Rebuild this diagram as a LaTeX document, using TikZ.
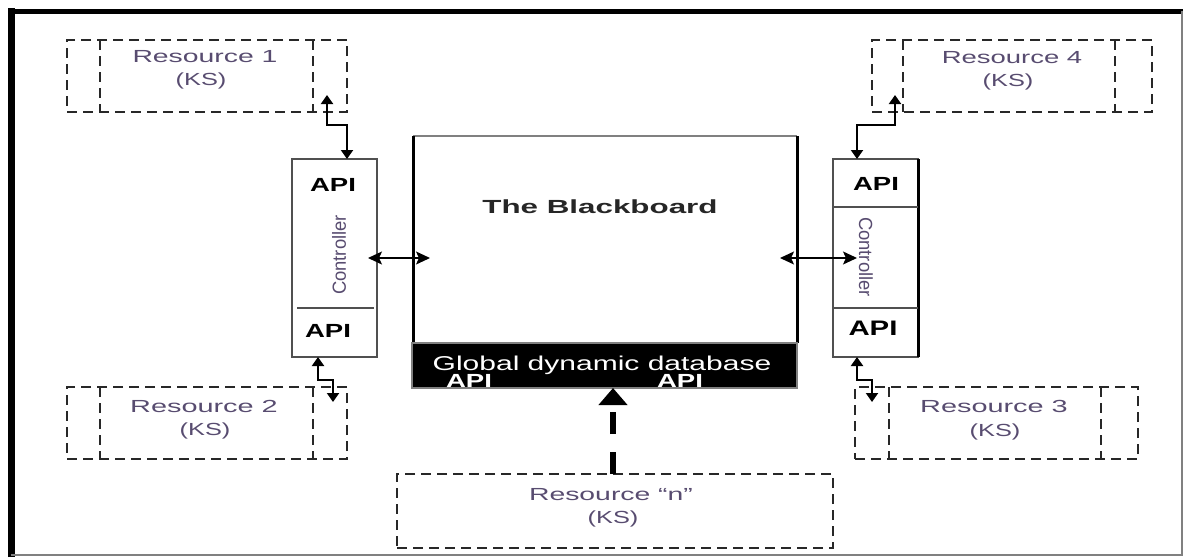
\documentclass[tikz,border=0pt]{standalone}
\usepackage{fontspec}
\setmainfont{Liberation Sans}
\usepackage{graphicx}
\usetikzlibrary{arrows.meta,calc}
\newcommand{\sx}[2]{\scalebox{#1}[1]{#2}}
\definecolor{restxt}{RGB}{88,76,112}
\definecolor{dashgray}{RGB}{40,40,40}
\definecolor{linegray}{RGB}{80,80,80}
\begin{document}
\begin{tikzpicture}[x=1pt,y=-1pt,
  resbox/.style={draw=dashgray, line width=2.3pt, dash pattern=on 10pt off 6pt, minimum width=280pt, minimum height=72pt, inner sep=0pt, outer sep=0pt},
  resline/.style={draw=dashgray, line width=2.3pt, dash pattern=on 10pt off 6pt},
  restext/.style={text=restxt, font=\fontsize{17.5}{20}\selectfont, inner sep=0pt, anchor=base},
  apitext/.style={font=\bfseries\fontsize{19}{22}\selectfont, inner sep=0pt, anchor=base},
  ctrltext/.style={text=restxt, font=\fontsize{19}{22}\selectfont, inner sep=0pt},
  ctrlbox/.style={draw=linegray, line width=1.5pt, minimum width=85pt, minimum height=198pt, inner sep=0pt, outer sep=0pt, fill=white},
  divider/.style={draw=linegray, line width=1.3pt},
  stepar/.style={{Triangle[length=9pt,width=12pt]}-{Triangle[length=9pt,width=12pt]}, line width=2pt},
  midar/.style={{Stealth[length=14pt,width=13pt,inset=3pt]}-{Stealth[length=14pt,width=13pt,inset=3pt]}, line width=1.4pt},
  bigar/.style={-{Triangle[length=17pt,width=28pt]}, line width=6pt, dash pattern=on 22pt off 18pt}
]
\useasboundingbox (0,0) rectangle (1185,557);
% frame
\draw[line width=7pt] (11,557) -- (11,8);
\draw[line width=5pt] (8,11) -- (1183,11);
\draw[gray, line width=1.2pt] (1182,11) -- (1182,555) -- (11,555);

% resource boxes
\node[resbox] (r1) at (207,76) {};
\draw[resline] ($(r1.north west)+(33,0)$) -- ($(r1.south west)+(33,0)$);
\draw[resline] ($(r1.north east)+(-34,0)$) -- ($(r1.south east)+(-34,0)$);
\node[restext] (r1t) at (205,62) {\sx{1.62}{Resource 1}};
\node[restext] (r1k) at (201,85) {\sx{1.45}{(KS)}};

\node[resbox] (r4) at (1012,76) {};
\draw[resline] ($(r4.north west)+(31,0)$) -- ($(r4.south west)+(31,0)$);
\draw[resline] ($(r4.north east)+(-37,0)$) -- ($(r4.south east)+(-37,0)$);
\node[restext] (r4t) at (1012,63) {\sx{1.57}{Resource 4}};
\node[restext] (r4k) at (1008,86) {\sx{1.45}{(KS)}};

\node[resbox] (r2) at (207,423) {};
\draw[resline] ($(r2.north west)+(33,0)$) -- ($(r2.south west)+(33,0)$);
\draw[resline] ($(r2.north east)+(-34,0)$) -- ($(r2.south east)+(-34,0)$);
\node[restext] (r2t) at (204,412) {\sx{1.65}{Resource 2}};
\node[restext] (r2k) at (205,435) {\sx{1.45}{(KS)}};

\node[resbox, minimum width=283pt] (r3) at (996.5,423) {};
\draw[resline] ($(r3.north west)+(34,0)$) -- ($(r3.south west)+(34,0)$);
\draw[resline] ($(r3.north east)+(-37,0)$) -- ($(r3.south east)+(-37,0)$);
\node[restext] (r3t) at (994,412) {\sx{1.65}{Resource 3}};
\node[restext] (r3k) at (995,436) {\sx{1.45}{(KS)}};

\node[resbox, minimum width=436pt, minimum height=74pt] (rn) at (615,511) {};
\node[restext] (rnt) at (611,500) {\sx{1.62}{Resource “n”}};
\node[restext] (rnk) at (613,523) {\sx{1.45}{(KS)}};

% blackboard
\node[minimum width=384pt, minimum height=207pt, inner sep=0pt, outer sep=0pt] (bb) at (605,239.5) {};
\draw[gray, line width=1.3pt] (bb.north west) -- (bb.north east);
\draw[line width=3pt] (bb.north west) -- (bb.south west);
\draw[line width=3pt] (bb.north east) -- (bb.south east);
\node[font=\bfseries\fontsize{19}{22}\selectfont, text=black!85, inner sep=0pt, anchor=base] (title) at (600,213) {\sx{1.65}{The Blackboard}};
\node[fill=black, draw=gray, line width=1.5pt, minimum width=385pt, minimum height=45pt, inner sep=0pt, outer sep=0pt] (db) at (604.5,365.5) {};
\node[font=\fontsize{20}{24}\selectfont, text=white, inner sep=0pt, anchor=base] (dbt) at (602,370) {\sx{1.5}{Global dynamic database}};
\node[apitext, text=white] (dbapi1) at (469,387) {\sx{1.45}{API}};
\node[apitext, text=white] (dbapi2) at (680,387) {\sx{1.45}{API}};

% controllers
\node[ctrlbox] (lc) at (334.5,258) {};
\draw[divider] ($(lc.west)+(5,50)$) -- ($(lc.east)+(-3,50)$);
\node[apitext] (lapi1) at (333,191) {\sx{1.45}{API}};
\node[apitext] (lapi2) at (328,337) {\sx{1.45}{API}};
\node[ctrltext, rotate=90] (lct) at (339,255) {\sx{0.97}{Controller}};

\node[ctrlbox] (rc) at (875.5,258) {};
\draw[line width=3pt] (rc.north east) -- (rc.south east);
\draw[divider] ($(rc.west)+(0,-51)$) -- ($(rc.east)+(0,-51)$);
\draw[divider] ($(rc.west)+(0,50)$) -- ($(rc.east)+(0,50)$);
\node[apitext] (rapi1) at (876,190) {\sx{1.45}{API}};
\node[apitext, font=\bfseries\fontsize{21}{24}\selectfont] (rapi2) at (873,335) {\sx{1.4}{API}};
\node[ctrltext, rotate=-90] (rct) at (866,257) {\sx{0.97}{Controller}};

% connectors
\draw[stepar] ($(r1.south east)+(-20,-17)$) -- ++(0,30) -| ($(lc.north)+(12.5,0)$);
\draw[stepar] ($(r4.south west)+(23,-17)$) -- ++(0,30) -| ($(rc.north)+(-18.5,0)$);
\draw[stepar] ($(lc.south)+(-16.5,0)$) -- ++(0,23) -| ($(r2.north east)+(-14,15)$);
\draw[stepar] ($(rc.south)+(-18.5,0)$) -- ++(0,23) -| ($(r3.north west)+(17,15)$);
\draw[midar] ($(lc.east)+(-9,0)$) -- ($(bb.west|-lc.east)+(17,0)$);
\draw[midar] ($(bb.east|-rc.west)+(-17,0)$) -- ($(rc.west)+(24,0)$);
\draw[bigar] ($(rn.north)+(-2,0)$) -- ($(rn.north|-db.south)+(-2,0)$);
\end{tikzpicture}
\end{document}
